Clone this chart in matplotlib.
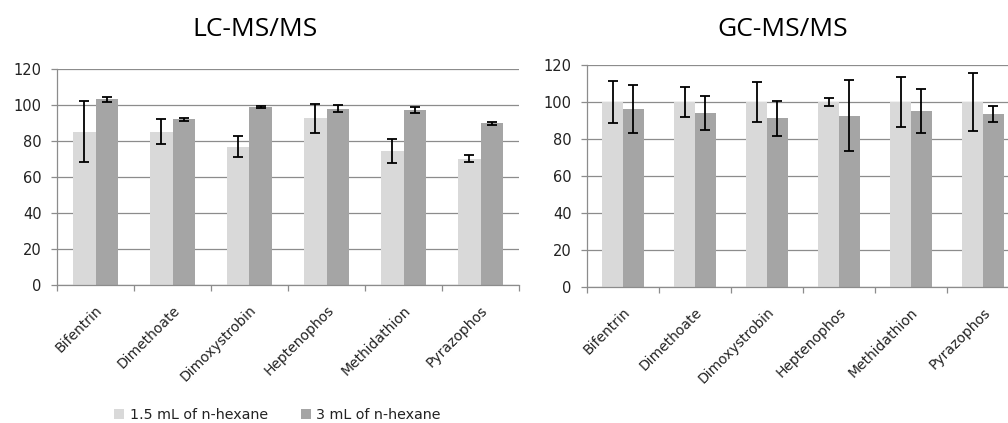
import matplotlib
matplotlib.use("Agg")
import matplotlib.pyplot as plt
import numpy as np
from matplotlib.patches import Patch

# --- data ---
compounds = ["Bifentrin", "Dimethoate", "Dimoxystrobin", "Heptenophos", "Methidathion", "Pyrazophos"]
series_names = ["1.5 mL of n-hexane", "3 mL of n-hexane"]

lc_low = [85.2, 85.2, 76.9, 92.6, 74.6, 70.2]
lc_low_err = [17.0, 7.1, 5.6, 8.0, 6.7, 1.8]
lc_high = [103.1, 92.0, 98.7, 98.0, 97.2, 89.8]
lc_high_err = [1.5, 0.7, 0.5, 1.8, 1.5, 0.7]

gc_low = [100.0, 100.0, 100.0, 100.0, 100.0, 100.0]
gc_low_err = [11.6, 8.1, 11.0, 2.2, 13.3, 15.5]
gc_high = [96.2, 94.0, 91.2, 92.6, 95.0, 93.3]
gc_high_err = [13.2, 9.2, 9.5, 19.1, 12.0, 4.3]

y_ticks = [0, 20, 40, 60, 80, 100, 120]

LIGHT = "#d9d9d9"
DARK = "#a5a5a5"
GRID = "#8c8c8c"
TEXT = "#222222"
BAR_W = 0.286

plt.rcParams["font.family"] = ["DejaVu Sans"]


def draw_panel(ax, low, low_err, high, high_err):
    x = np.arange(len(compounds))
    ax.bar(x - BAR_W / 2, low, BAR_W, color=LIGHT, zorder=2)
    ax.bar(x + BAR_W / 2, high, BAR_W, color=DARK, zorder=2)
    err_kw = dict(fmt="none", ecolor="black", elinewidth=1.3, capsize=3.3, capthick=1.3, zorder=3)
    ax.errorbar(x - BAR_W / 2, low, yerr=low_err, **err_kw)
    ax.errorbar(x + BAR_W / 2, high, yerr=high_err, **err_kw)

    ax.set_xlim(-0.5, len(compounds) - 0.5)
    ax.set_ylim(0, 120)
    ax.set_yticks(y_ticks)
    ax.yaxis.grid(True, color=GRID, linewidth=0.9, zorder=0)
    ax.set_axisbelow(True)

    # category boundary ticks, labels at centres
    ax.set_xticks(np.arange(len(compounds) + 1) - 0.5)
    ax.set_xticklabels([])
    ax.set_xticks(x, minor=True)
    ax.set_xticklabels(compounds, minor=True, rotation=45, ha="right", va="top",
                       rotation_mode="anchor", fontsize=10, color=TEXT)
    ax.tick_params(axis="x", which="minor", length=0, pad=13)
    ax.tick_params(axis="x", which="major", length=4.5, color=GRID, width=0.9)
    ax.tick_params(axis="y", length=4.5, color=GRID, width=0.9, labelsize=10.5,
                   labelcolor=TEXT, pad=6.5)

    for side in ("top", "right"):
        ax.spines[side].set_visible(False)
    for side in ("left", "bottom"):
        ax.spines[side].set_color(GRID)
        ax.spines[side].set_linewidth(0.9)


fig = plt.figure(figsize=(10.08, 4.23), dpi=100)
W, H = 1008, 423

ax_lc = fig.add_axes([57 / W, 1 - 285 / H, 462 / W, 216 / H])
ax_gc = fig.add_axes([587 / W, 1 - 287 / H, 432 / W, 222 / H])

draw_panel(ax_lc, lc_low, lc_low_err, lc_high, lc_high_err)
draw_panel(ax_gc, gc_low, gc_low_err, gc_high, gc_high_err)

fig.text(255 / W, 1 - 30 / H, "LC-MS/MS", ha="center", va="center",
         fontsize=19, family="Open Sans", color="black")
fig.text(783 / W, 1 - 30 / H, "GC-MS/MS", ha="center", va="center",
         fontsize=19, family="Open Sans", color="black")

handles = [Patch(facecolor=LIGHT, edgecolor="none"), Patch(facecolor=DARK, edgecolor="none")]
fig.legend(handles, series_names, loc="center left", bbox_to_anchor=(114 / W, 8 / H),
           ncol=2, frameon=False, fontsize=10.3, handlelength=0.7, handleheight=0.7,
           handletextpad=0.4, columnspacing=2.3, borderpad=0, borderaxespad=0,
           labelcolor=TEXT)

fig.savefig("out.png", dpi=100)
